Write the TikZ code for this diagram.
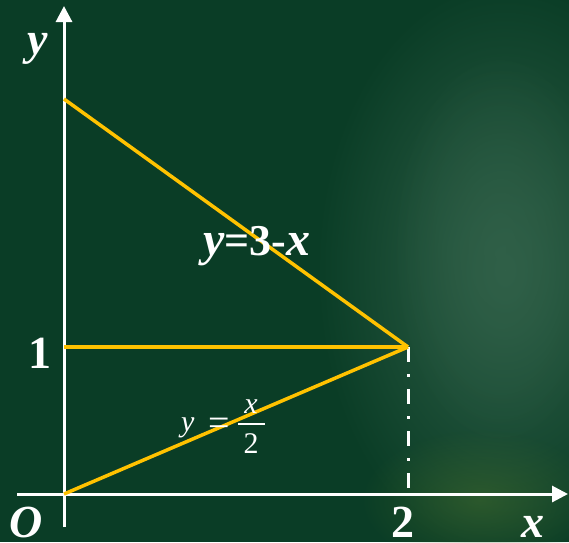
\documentclass[tikz,border=0pt]{standalone}
\usepackage{fontspec}
\setmainfont{Liberation Serif}
\usetikzlibrary{arrows.meta,fadings}
\definecolor{bg}{RGB}{10,61,38}
\definecolor{bglight}{RGB}{48,96,72}
\definecolor{bush}{RGB}{70,110,45}
\definecolor{ylw}{RGB}{255,194,0}
\tikzfading[name=softedge, inner color=transparent!0, outer color=transparent!100]
\tikzset{
  axis/.style={white, line width=3pt, -{Triangle[length=16pt,width=16pt]}},
  graphline/.style={ylw, line width=3.5pt},
  dashdot/.style={white, line width=3pt, dash pattern=on 15pt off 12pt on 3pt off 12pt},
  lbl/.style={white, font=\fontsize{46}{46}\selectfont\bfseries, inner sep=0pt, text depth=0pt},
  eq/.style={white, inner sep=0pt, font=\fontsize{30}{30}\selectfont}
}
\begin{document}
\begin{tikzpicture}[x=1pt,y=-1pt]
\useasboundingbox (0,0) rectangle (569,542);
\fill[bg] (0,0) rectangle (569,542);
\begin{scope}
\clip (0,0) rectangle (569,542);
\fill[bglight, path fading=softedge] (505,270) ellipse (190 and 290);
\fill[bglight, path fading=softedge, opacity=0.7] (500,250) ellipse (110 and 200);
\fill[bush, path fading=softedge, opacity=0.5] (480,500) ellipse (120 and 70);
\end{scope}
% coordinates
\coordinate (O) at (64,494);
\coordinate (ybot) at (64,527);
\coordinate (ytop) at (64,6);
\coordinate (xleft) at (17,494);
\coordinate (xright) at (568,494);
\coordinate (A) at (64,99);
\coordinate (B) at (64,347);
\coordinate (P) at (408,347);
\coordinate (Q) at (408,494);
\coordinate (barL) at (238,424);
\coordinate (barR) at (265,424);
% axes
\draw[axis] (ybot) -- (ytop);
\draw[axis] (xleft) -- (xright);
% lines
\draw[dashdot] (P) -- (Q);
\draw[graphline] (A) -- (P);
\draw[graphline] (B) -- (P);
\draw[graphline] (O) -- (P);
% labels
\node[lbl, anchor=base] (ylab) at (38,54) {\itshape y};
\node[lbl, anchor=base] (one) at (40,368) {1};
\node[lbl, anchor=base] (olab) at (26,537) {\itshape O};
\node[lbl, anchor=base] (two) at (403,537) {2};
\node[lbl, anchor=base] (xlab) at (533,537) {\itshape x};
\node[eq, anchor=base] (e1) at (257,255) {\bfseries\fontsize{48}{48}\selectfont\itshape y\/\fontsize{44}{44}\selectfont\upshape=3-\fontsize{48}{48}\selectfont\itshape x};
\node[eq, anchor=base west] (e2) at (181,431) {\itshape y};
\node[eq, anchor=base, font=\fontsize{38}{38}\selectfont] (eqs) at (219,435) {=};
\node[eq, anchor=base] (num) at (251,413) {\itshape x};
\node[eq, anchor=base] (den) at (251,453) {2};
\draw[white, line width=1.5pt] (barL) -- (barR);
\end{tikzpicture}
\end{document}
